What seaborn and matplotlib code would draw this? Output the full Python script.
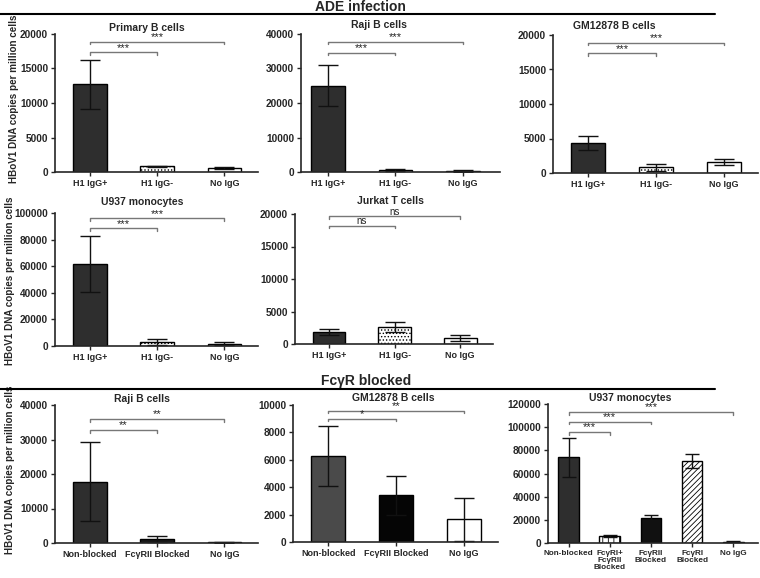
import matplotlib
matplotlib.use("Agg")
import matplotlib.pyplot as plt
import seaborn as sns
import pandas as pd
from matplotlib.lines import Line2D

# ---------------------------------------------
# Data
# ---------------------------------------------
ade_groups = ["H1 IgG+", "H1 IgG-", "No IgG"]

primary_b_mean = [12700, 800, 600]
primary_b_sd = [3600, 100, 150]

raji_mean = [25000, 600, 300]
raji_sd = [6000, 300, 200]

gm12878_mean = [4400, 800, 1600]
gm12878_sd = [1000, 500, 400]

u937_mean = [61500, 3000, 1800]
u937_sd = [21000, 2500, 1000]

jurkat_mean = [1800, 2600, 900]
jurkat_sd = [450, 800, 500]

blk_groups = ["Non-blocked", "FcγRII Blocked", "No IgG"]

raji_blk_mean = [17800, 1200, 150]
raji_blk_sd = [11500, 800, 80]

gm12878_blk_mean = [6300, 3400, 1650]
gm12878_blk_sd = [2200, 1450, 1550]

u937_blk_groups = ["Non-blocked", "FcγRI+\nFcγRII\nBlocked", "FcγRII\nBlocked",
                   "FcγRI\nBlocked", "No IgG"]
u937_blk_mean = [74000, 6000, 21500, 70500, 1000]
u937_blk_sd = [17000, 800, 3000, 6000, 500]

ylabel = "HBoV1 DNA copies per million cells"

# ---------------------------------------------
# Style
# ---------------------------------------------
sns.set_style("ticks")
plt.rcParams['font.family'] = ['Liberation Sans', 'DejaVu Sans']
plt.rcParams['font.weight'] = 'bold'
plt.rcParams['hatch.linewidth'] = 0.6

W, H = 760, 578
fig = plt.figure(figsize=(W / 100, H / 100), dpi=100)


def rect(x0, x1, ytop, ybot):
    return [x0 / W, 1 - ybot / H, (x1 - x0) / W, (ybot - ytop) / H]


ade_colors = ['#2e2e2e', 'white', 'white']
ade_hatch = [None, '.....', None]

panels = [
    dict(r=rect(55, 258, 34, 172), title="Primary B cells", tx=0.45, pad=2.5,
         groups=ade_groups, mean=primary_b_mean, sd=primary_b_sd,
         colors=ade_colors, hatch=ade_hatch, ymax=20000, step=5000,
         sig=[(0, 1, '***', 0.87), (0, 2, '***', 0.945)],
         ylab=(-0.175, 0.53), cap=7),
    dict(r=rect(301, 500, 34, 172), title="Raji B cells", tx=0.39, pad=4,
         groups=ade_groups, mean=raji_mean, sd=raji_sd,
         colors=ade_colors, hatch=ade_hatch, ymax=40000, step=10000,
         sig=[(0, 1, '***', 0.865), (0, 2, '***', 0.945)], ylab=None, cap=7,
         xlim=(-0.4, 2.55)),
    dict(r=rect(553, 758, 35, 173), title="GM12878 B cells", tx=0.30, pad=4.5,
         groups=ade_groups, mean=gm12878_mean, sd=gm12878_sd,
         colors=ade_colors, hatch=ade_hatch, ymax=20000, step=5000,
         sig=[(0, 1, '***', 0.87), (0, 2, '***', 0.945)], ylab=None, cap=7),
    dict(r=rect(55, 258, 213, 346), title="U937 monocytes", tx=0.43, pad=5.5,
         groups=ade_groups, mean=u937_mean, sd=u937_sd,
         colors=ade_colors, hatch=ade_hatch, ymax=100000, step=20000,
         sig=[(0, 1, '***', 0.885), (0, 2, '***', 0.96)],
         ylab=(-0.195, 0.49), cap=7),
    dict(r=rect(295, 493, 214, 344), title="Jurkat T cells", tx=0.48, pad=7,
         groups=ade_groups, mean=jurkat_mean, sd=jurkat_sd,
         colors=ade_colors, hatch=ade_hatch, ymax=20000, step=5000,
         sig=[(0, 1, 'ns', 0.91), (0, 2, 'ns', 0.985)], ylab=None, cap=7),
    dict(r=rect(55, 258, 405, 543), title="Raji B cells", tx=0.43, pad=2,
         groups=blk_groups, mean=raji_blk_mean, sd=raji_blk_sd,
         colors=['#2e2e2e', '#1a1a1a', 'white'], hatch=[None, None, None],
         ymax=40000, step=10000,
         sig=[(0, 1, '**', 0.82), (0, 2, '**', 0.90)],
         ylab=(-0.195, 0.53), cap=7),
    dict(r=rect(293, 498, 405, 542), title="GM12878 B cells", tx=0.49, pad=3,
         groups=blk_groups, mean=gm12878_blk_mean, sd=gm12878_blk_sd,
         colors=['#4a4a4a', '#050505', 'white'], hatch=[None, None, None],
         ymax=10000, step=2000,
         sig=[(0, 1, '*', 0.90), (0, 2, '**', 0.958)], ylab=None, cap=7),
    dict(r=rect(548, 758, 404, 543), title="U937 monocytes", tx=0.39, pad=2.5,
         groups=u937_blk_groups, mean=u937_blk_mean, sd=u937_blk_sd,
         colors=['#2e2e2e', 'white', '#111111', 'white', 'white'],
         hatch=[None, '|||', None, '//////', None],
         ymax=120000, step=20000,
         sig=[(0, 1, '***', 0.80), (0, 2, '***', 0.873), (0, 4, '***', 0.944)],
         ylab=None, cap=5, xlim=(-0.5, 4.6), xfs=5.9),
]

for p in panels:
    ax = fig.add_axes(p['r'])
    df = pd.DataFrame({'group': p['groups'], 'value': p['mean']})
    pal = dict(zip(p['groups'], p['colors']))
    sns.barplot(data=df, x='group', y='value', hue='group', palette=pal,
                width=0.5, edgecolor='black', linewidth=1, legend=False,
                saturation=1, ax=ax)
    for patch, h in zip(ax.patches, p['hatch']):
        if h:
            patch.set_hatch(h)
    ax.errorbar(range(len(p['groups'])), p['mean'], yerr=p['sd'], fmt='none',
                ecolor='#111111', elinewidth=1, capsize=p['cap'], capthick=1)

    n = len(p['groups'])
    ax.set_xlim(*p.get('xlim', (-0.52, n - 0.5)))
    ax.set_ylim(0, p['ymax'])
    ax.set_yticks(range(0, p['ymax'] + 1, p['step']))
    ax.tick_params(axis='both', length=3, width=1, pad=2)
    ax.tick_params(axis='y', labelsize=7.3)
    ax.tick_params(axis='x', labelsize=p.get('xfs', 6.5))
    for lab in ax.get_xticklabels() + ax.get_yticklabels():
        lab.set_fontweight('bold')
        lab.set_linespacing(1.0)
    ax.set_xlabel('')
    if p['ylab'] is not None:
        ax.set_ylabel(ylabel, fontsize=7.1, fontweight='bold')
        ax.yaxis.set_label_coords(*p['ylab'])
    else:
        ax.set_ylabel('')
    ax.set_title(p['title'], fontsize=7.5, fontweight='bold', x=p['tx'],
                 pad=p['pad'])
    sns.despine(ax=ax)
    for s in ['left', 'bottom']:
        ax.spines[s].set_linewidth(1.2)

    # significance brackets
    d = 0.02 * p['ymax']
    for a, b, label, frac in p['sig']:
        y = frac * p['ymax']
        ax.plot([a, a, b, b], [y - d, y, y, y - d], color='#777777', lw=1,
                clip_on=False)
        fs = 7 if label == 'ns' else 8
        ax.text((a + b) / 2, y - 0.005 * p['ymax'], label, ha='center',
                va='bottom', fontsize=fs, fontweight='normal', color='#222222',
                clip_on=False)

# section headers
fig.text(360 / W, 1 - 11 / H, "ADE infection", ha='center', va='baseline',
         fontsize=10, fontweight='bold')
fig.add_artist(Line2D([0, 715 / W], [1 - 13.5 / H] * 2, color='black', lw=1.5))
fig.text(366 / W, 1 - 385 / H, "FcγR blocked", ha='center', va='baseline',
         fontsize=10, fontweight='bold')
fig.add_artist(Line2D([0, 715 / W], [1 - 389 / H] * 2, color='black', lw=1.5))

fig.savefig("out.png", dpi=100)
